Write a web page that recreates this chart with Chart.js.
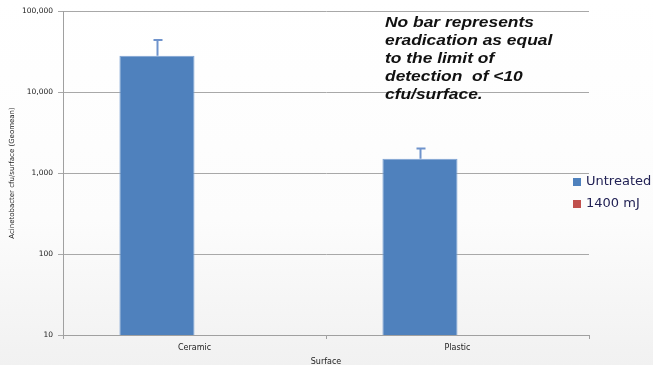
<!DOCTYPE html>
<html><head><meta charset="utf-8">
<script src="https://cdn.jsdelivr.net/npm/chart.js@4"></script>
<style>html,body{margin:0;padding:0;background:#fff}#wrap{width:653px;height:365px;position:relative}</style>
</head><body><div id="wrap"><canvas id="c" width="653" height="365"></canvas></div>
<script>
const categories = ['Ceramic', 'Plastic'];
const seriesNames = ['Untreated', '1400 mJ'];
const untreated = [28000, 1500];
const untreatedUpper = [44000, 2000];
const treated1400 = [null, null];
const yTicks = [10, 100, 1000, 10000, 100000];
const noteLines = ['No bar represents', 'eradication as equal', 'to the limit of', 'detection  of <10', 'cfu/surface.'];

const bgPlugin = {
  id: 'bg',
  beforeDraw(chart) {
    const ctx = chart.ctx;
    const g = ctx.createLinearGradient(0, 0, 0, chart.height);
    g.addColorStop(0, '#ffffff');
    g.addColorStop(0.6, '#fcfcfc');
    g.addColorStop(1, '#f1f1f1');
    ctx.save(); ctx.fillStyle = g; ctx.fillRect(0, 0, chart.width, chart.height); ctx.restore();
  }
};

const errPlugin = {
  id: 'err',
  afterDatasetsDraw(chart) {
    const ctx = chart.ctx;
    const meta = chart.getDatasetMeta(0);
    const y = chart.scales.y;
    ctx.save();
    ctx.strokeStyle = '#6f93cc';
    ctx.lineWidth = 2;
    meta.data.forEach((bar, i) => {
      if (untreatedUpper[i] == null) return;
      const x = Math.round(bar.x) + 0.5;
      const yTop = y.getPixelForValue(untreatedUpper[i]);
      ctx.beginPath();
      ctx.moveTo(x, bar.y); ctx.lineTo(x, yTop);
      ctx.moveTo(x - 4, yTop); ctx.lineTo(x + 5, yTop);
      ctx.stroke();
    });
    ctx.restore();
  }
};

const notePlugin = {
  id: 'note',
  afterDraw(chart) {
    const ctx = chart.ctx;
    ctx.save();
    ctx.font = 'italic bold 14.5px "Liberation Sans", Arial, sans-serif';
    ctx.fillStyle = '#111111';
    ctx.textBaseline = 'alphabetic';
    noteLines.forEach((t, i) => {
      ctx.save();
      ctx.translate(385, 27 + i * 18);
      ctx.scale(1.2, 1);
      ctx.fillText(t, 0, 0);
      ctx.restore();
    });
    // legend
    const colors = ['#4f81bd', '#c0504d'];
    ctx.font = '13px "DejaVu Sans", sans-serif';
    ctx.textBaseline = 'middle';
    chart.data.datasets.forEach((ds, i) => {
      const yy = 182 + i * 22;
      ctx.fillStyle = colors[i];
      ctx.fillRect(573, yy - 4, 8, 8);
      ctx.fillStyle = '#222255';
      ctx.fillText(ds.label, 586, yy);
    });
    ctx.restore();
  }
};

new Chart(document.getElementById('c'), {
  type: 'bar',
  data: {
    labels: categories,
    datasets: [
      { label: seriesNames[0], data: untreated, backgroundColor: '#4f81bd', borderColor: '#7ea2d4', borderWidth: 1, categoryPercentage: 0.571, barPercentage: 1 },
      { label: seriesNames[1], data: treated1400, backgroundColor: '#c0504d', borderColor: '#c0504d', borderWidth: 0, categoryPercentage: 0.571, barPercentage: 1 }
    ]
  },
  options: {
    responsive: false,
    animation: false,
    layout: { padding: { top: 11, right: 64, left: 0, bottom: 0 } },
    plugins: { legend: { display: false }, tooltip: { enabled: false } },
    scales: {
      x: {
        grid: { display: true, drawOnChartArea: false, drawTicks: true, tickLength: 4, color: '#a0a0a0', offset: true },
        border: { color: '#a0a0a0', width: 1 },
        ticks: { font: { size: 8, family: '"DejaVu Sans", sans-serif' }, color: '#222', padding: 4 },
        title: { display: true, text: 'Surface', font: { size: 8, family: '"DejaVu Sans", sans-serif' }, color: '#222', padding: { top: 4, bottom: -2 } },
        afterFit(s) { s.height = 30; }
      },
      y: {
        type: 'logarithmic',
        min: 10, max: 100000,
        afterBuildTicks(s) { s.ticks = yTicks.map(v => ({ value: v })); },
        grid: { color: '#a8a8a8', lineWidth: 1, tickLength: 5 },
        border: { color: '#a0a0a0', width: 1 },
        ticks: { font: { size: 7.5, family: '"DejaVu Sans", sans-serif' }, color: '#222', padding: 5,
          callback: (v) => Number(v).toLocaleString('en-US') },
        title: { display: true, text: 'Acinetobacter cfu/surface (Geomean)', font: { size: 7, family: '"DejaVu Sans", sans-serif' }, color: '#222', padding: { top: 8, bottom: 0 } },
        afterFit(s) { s.width = 63; }
      }
    }
  },
  plugins: [bgPlugin, errPlugin, notePlugin]
});
</script></body></html>
